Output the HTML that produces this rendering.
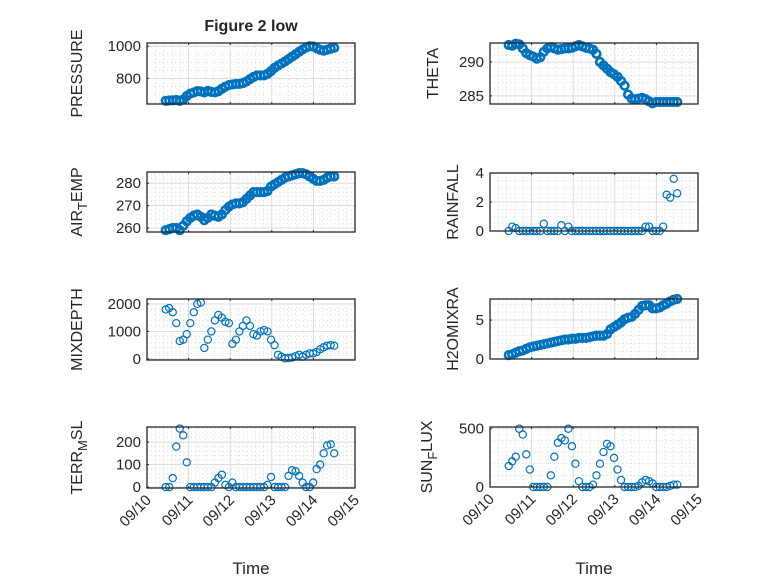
<!DOCTYPE html>
<html><head><meta charset="utf-8"><style>
body{margin:0;background:#fff}
svg text{font-family:"Liberation Sans","DejaVu Sans",sans-serif;fill:#262626}
</style></head><body>
<svg id="fig" width="778" height="583" viewBox="0 0 778 583" xmlns="http://www.w3.org/2000/svg">
<rect width="778" height="583" fill="#fff"/>
<text x="251" y="31" font-size="16" font-weight="bold" text-anchor="middle">Figure 2 low</text>
</svg>
<script>
const xTickLabels = ["09/10","09/11","09/12","09/13","09/14","09/15"];
const tStart = 0.45, tEnd = 4.5;
const pressure = [660,662,663,665,660,668,690,705,712,720,718,712,722,715,712,720,735,748,758,762,765,765,770,780,795,808,818,818,818,828,845,865,880,892,905,920,935,950,965,980,992,1000,998,988,978,972,978,985,990];
const airTemp = [259,259.5,260,260,259,261,263,264.5,265.5,266,265,263.5,264.5,266,265.5,265,266,268,269.5,270.5,271,271,271.5,273,274.5,276,276,276,276,276.5,278.5,279.5,280.5,281.5,282.5,283,283.5,284,284.5,284.5,284,283,282,281,281,281.5,282.5,283,283];
const mixDepth = [1800,1850,1700,1300,650,700,900,1300,1700,2000,2050,400,700,1000,1400,1600,1500,1350,1300,550,700,1000,1200,1400,1200,900,850,1000,1050,1000,700,500,150,80,20,30,50,100,150,80,150,200,200,250,350,420,480,500,480];
const terrMsl = [0,0,40,180,260,230,110,0,0,0,0,0,0,0,20,40,55,10,0,20,0,0,0,0,0,0,0,0,0,10,45,0,0,0,0,50,75,70,50,20,0,0,20,80,100,150,185,190,150];
const theta = [292.5,292.4,292.7,292.6,292,291.3,291,290.8,290.5,290.7,291.5,292,292.2,292,291.8,291.9,292,292,292.1,292.3,292.5,292.3,292.1,292,291.8,291.2,290,289.5,289,288.5,288.2,287.8,287.2,286.5,285.2,284.6,284.5,284.6,284.7,284.5,284.2,283.9,284.1,284.1,284.1,284.1,284.1,284.1,284.1];
const rainfall = [0,0.3,0.2,0,0,0,0,0,0,0,0.5,0,0,0,0,0.4,0,0.3,0,0,0,0,0,0,0,0,0,0,0,0,0,0,0,0,0,0,0,0,0,0.3,0.3,0,0,0,0.3,2.5,2.3,3.6,2.6];
const h2oMix = [0.5,0.6,0.8,1,1.1,1.3,1.5,1.6,1.7,1.8,1.9,2,2.1,2.2,2.3,2.4,2.5,2.5,2.6,2.6,2.7,2.7,2.7,2.8,2.9,3,3,3,3.2,3.8,4.1,4.4,4.7,5.1,5.3,5.4,5.8,6.3,6.8,6.9,6.9,6.5,6.5,6.6,6.9,7.1,7.4,7.6,7.7];
const sunFlux = [180,220,260,500,450,280,150,0,0,0,0,0,100,260,380,420,400,500,350,200,50,0,0,0,20,100,200,300,370,350,250,150,60,0,0,0,0,10,40,60,50,30,0,0,0,0,10,20,20];
const pressureTicks=[800,1000], airTicks=[260,270,280], mixTicks=[0,1000,2000], terrTicks=[0,100,200];
const thetaTicks=[285,290], rainTicks=[0,2,4], h2oTicks=[0,5], sunTicks=[0,500];

const NS="http://www.w3.org/2000/svg";
const svg=document.getElementById('fig');
function mk(tag,attrs,parent){const e=document.createElementNS(NS,tag);for(const k in attrs)e.setAttribute(k,attrs[k]);(parent||svg).appendChild(e);return e;}

const panels=[
 {key:'pressure',x0:147,x1:355,y0:43,y1:104,ymin:640,ymax:1020,data:pressure,ticks:pressureTicks,minor:50,label:['PRESSURE'],lx:82,dense:true},
 {key:'air-temp',x0:147,x1:355,y0:172,y1:232,ymin:258.2,ymax:285,data:airTemp,ticks:airTicks,minor:2,label:['AIR','T','EMP'],lx:82,dense:true},
 {key:'mixdepth',x0:147,x1:355,y0:299,y1:360,ymin:-40,ymax:2180,data:mixDepth,ticks:mixTicks,minor:200,label:['MIXDEPTH'],lx:82},
 {key:'terr-msl',x0:147,x1:355,y0:427,y1:488,ymin:-4,ymax:267,data:terrMsl,ticks:terrTicks,minor:20,label:['TERR','M','SL'],lx:82,bottom:true},
 {key:'theta',x0:490,x1:698,y0:43,y1:104,ymin:283.8,ymax:292.8,data:theta,ticks:thetaTicks,minor:1,label:['THETA'],lx:438,dense:true},
 {key:'rainfall',x0:490,x1:698,y0:173,y1:231,ymin:0,ymax:4,data:rainfall,ticks:rainTicks,minor:0.5,label:['RAINFALL'],lx:458},
 {key:'h2o-mix',x0:490,x1:698,y0:299,y1:359,ymin:0,ymax:7.7,data:h2oMix,ticks:h2oTicks,minor:1,label:['H2OMIXRA'],lx:458,dense:true},
 {key:'sun-flux',x0:490,x1:698,y0:427,y1:487,ymin:0,ymax:515,data:sunFlux,ticks:sunTicks,minor:100,label:['SUN','F','LUX'],lx:432,bottom:true}
];

panels.forEach(p=>{
 const g=mk('g',{});
 
 
 const xs=d=>p.x0+(d/5)*(p.x1-p.x0);
 const ys=v=>p.y1-(v-p.ymin)/(p.ymax-p.ymin)*(p.y1-p.y0);
 for(let d=0.2;d<5;d+=0.2){if(Math.abs(d-Math.round(d))<0.01)continue;
  mk('line',{x1:xs(d),x2:xs(d),y1:p.y0,y2:p.y1,stroke:'#c8c8c8','stroke-width':0.6,'stroke-dasharray':'1,3'},g);}
 const m0=Math.ceil(p.ymin/p.minor)*p.minor;
 for(let v=m0;v<=p.ymax;v+=p.minor){
  mk('line',{x1:p.x0,x2:p.x1,y1:ys(v),y2:ys(v),stroke:'#c8c8c8','stroke-width':0.6,'stroke-dasharray':'1,3'},g);}
 for(let d=1;d<5;d++) mk('line',{x1:xs(d),x2:xs(d),y1:p.y0,y2:p.y1,stroke:'#dcdcdc','stroke-width':1},g);
 p.ticks.forEach(v=>{mk('line',{x1:p.x0,x2:p.x1,y1:ys(v),y2:ys(v),stroke:'#dcdcdc','stroke-width':1},g);
  const t=mk('text',{x:p.x0-6,y:ys(v)+5,'font-size':15,'text-anchor':'end'},g);t.textContent=v;
  
  
  mk('line',{x1:p.x0,x2:p.x0+2,y1:ys(v),y2:ys(v),stroke:'#262626'},g);});
 const n=p.data.length;
 p.data.forEach((v,i)=>{
  const t=tStart+(tEnd-tStart)*i/(n-1);
  const c=mk('circle',{cx:xs(t),cy:ys(v),r:p.dense?3.8:3.6,fill:'none',stroke:'#0072BD','stroke-width':p.dense?2.6:1.2},g);
  
  
 });
 mk('rect',{x:p.x0,y:p.y0,width:p.x1-p.x0,height:p.y1-p.y0,fill:'none',stroke:'#262626','stroke-width':1.3},g);
 for(let d=0;d<=5;d++){mk('line',{x1:xs(d),x2:xs(d),y1:p.y1,y2:p.y1-2,stroke:'#262626'},g);mk('line',{x1:xs(d),x2:xs(d),y1:p.y0,y2:p.y0+2,stroke:'#262626'},g);}
 const cy=(p.y0+p.y1)/2;
 const lab=mk('text',{x:0,y:0,'font-size':16,'text-anchor':'middle',transform:`translate(${p.lx},${cy}) rotate(-90)`},g);
 
 
 if(p.label.length===1){lab.textContent=p.label[0];}
 else{const a=mk('tspan',{},lab);a.textContent=p.label[0];
  const b=mk('tspan',{dy:5,'font-size':13},lab);b.textContent=p.label[1];
  const c=mk('tspan',{dy:-5},lab);c.textContent=p.label[2];}
 if(p.bottom){
  xTickLabels.forEach((s,d)=>{const t=mk('text',{x:0,y:0,'font-size':15,'text-anchor':'end',transform:`translate(${xs(d)+5},${p.y1+13}) rotate(-45)`},g);t.textContent=s;
   
   });
  const tl=mk('text',{x:(p.x0+p.x1)/2,y:574,'font-size':17,'text-anchor':'middle'},g);tl.textContent='Time';
  
  
 }
});
</script>
</body></html>
